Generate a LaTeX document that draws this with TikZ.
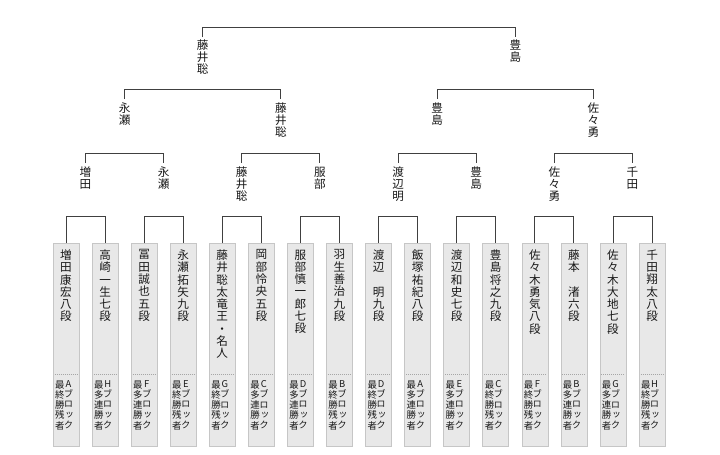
\documentclass[tikz,border=0pt]{standalone}
\usepackage{fontspec}
\newfontfamily\jp[RawFeature=+vert]{Noto Sans CJK JP}
\newcommand\kA{最\\終\\勝\\残\\者}
\newcommand\kB{最\\多\\連\\勝\\者}
\tikzset{
  box/.style={draw=gray!45, fill=gray!18, line width=0.6pt, minimum width=26pt, minimum height=203pt, anchor=north, inner sep=0pt},
  nm/.style={font=\jp\fontsize{11.6}{12.3}\selectfont, align=center, anchor=north, inner sep=0pt, text=black!90},
  sm/.style={font=\jp\fontsize{9.4}{10.2}\selectfont, align=center, anchor=north, inner sep=0pt, text=black!90},
  lb/.style={font=\jp\fontsize{11.6}{12}\selectfont, align=center, anchor=north, inner sep=0pt, text=black!90},
  ln/.style={draw=black!75, line width=0.9pt},
  sep/.style={draw=gray!70, line width=0.5pt, dash pattern=on 1pt off 1pt}
}
\begin{document}
\begin{tikzpicture}[x=1pt,y=-1pt]
\useasboundingbox[fill=white] (0,0) rectangle (720,455);
\foreach \i/\nm/\blk/\kd in {
0/{増\\田\\康\\宏\\八\\段}/A/\kA,
1/{高\\崎\\一\\生\\七\\段}/H/\kB,
2/{冨\\田\\誠\\也\\五\\段}/F/\kB,
3/{永\\瀬\\拓\\矢\\九\\段}/E/\kA,
4/{藤\\井\\聡\\太\\竜\\王\\・\\名\\人}/G/\kA,
5/{岡\\部\\怜\\央\\五\\段}/C/\kB,
6/{服\\部\\慎\\一\\郎\\七\\段}/D/\kB,
7/{羽\\生\\善\\治\\九\\段}/B/\kA,
8/{渡\\辺\\　\\明\\九\\段}/D/\kA,
9/{飯\\塚\\祐\\紀\\八\\段}/A/\kB,
10/{渡\\辺\\和\\史\\七\\段}/E/\kB,
11/{豊\\島\\将\\之\\九\\段}/C/\kA,
12/{佐\\々\\木\\勇\\気\\八\\段}/F/\kA,
13/{藤\\本\\　\\渚\\六\\段}/B/\kB,
14/{佐\\々\\木\\大\\地\\七\\段}/G/\kB,
15/{千\\田\\翔\\太\\八\\段}/H/\kA}
{
  \pgfmathsetmacro\cx{66+39.07*\i}
  \node[box] (b\i) at (\cx,243) {};
  \node[nm] (n\i) at (\cx,249.5) {\nm};
  \draw[sep] (\cx-11.5,374) -- (\cx+11.5,374);
  \node[sm] (k\i) at (\cx+2.6,380.5) {\blk\\ブ\\ロ\\ッ\\ク};
  \node[sm] (w\i) at (\cx-6.3,380.5) {\kd};
}
% first-round brackets
\foreach \j in {0,...,7}{
  \pgfmathtruncatemacro\a{2*\j}
  \pgfmathtruncatemacro\b{2*\j+1}
  \draw[ln] (b\a.north) -- ++(0,-27) -| (b\b.north);
}
% level 1 labels
\foreach \j/\t in {0/{増\\田},1/{永\\瀬},2/{藤\\井\\聡},3/{服\\部},4/{渡\\辺\\明},5/{豊\\島},6/{佐\\々\\勇},7/{千\\田}}{
  \node[lb] (p\j) at ({85.5+78.14*\j},167) {\t};
}
\foreach \j in {0,...,3}{
  \pgfmathtruncatemacro\a{2*\j}
  \pgfmathtruncatemacro\b{2*\j+1}
  \draw[ln] ([yshift=4pt]p\a.north) -- ++(0,-10) -| ([yshift=4pt]p\b.north);
}
% level 2 labels
\foreach \k/\t in {0/{永\\瀬},1/{藤\\井\\聡},2/{豊\\島},3/{佐\\々\\勇}}{
  \node[lb] (q\k) at ({124.6+156.28*\k},103) {\t};
}
\foreach \k in {0,1}{
  \pgfmathtruncatemacro\a{2*\k}
  \pgfmathtruncatemacro\b{2*\k+1}
  \draw[ln] ([yshift=4pt]q\a.north) -- ++(0,-10) -| ([yshift=4pt]q\b.north);
}
% level 3 labels
\node[lb] (r0) at (202.7,40) {藤\\井\\聡};
\node[lb] (r1) at (515.3,40) {豊\\島};
\draw[ln] ([yshift=3pt]r0.north) -- ++(0,-10) -| ([yshift=3pt]r1.north);
\end{tikzpicture}
\end{document}
